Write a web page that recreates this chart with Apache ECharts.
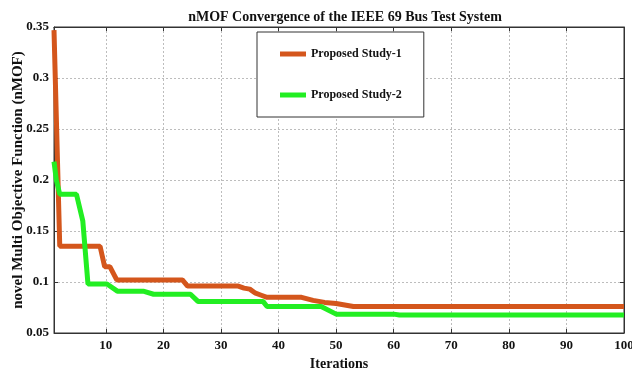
<!DOCTYPE html>
<html><head><meta charset="utf-8">
<script src="https://cdn.jsdelivr.net/npm/echarts@6/dist/echarts.min.js"></script>
<style>html,body{margin:0;padding:0;background:#fff}#c{width:632px;height:371px}</style>
</head><body><div id="c"></div>
<script>
const titleText = 'nMOF Convergence of the IEEE 69 Bus Test System';
const xName = 'Iterations';
const yName = 'novel Multi Objective Function (nMOF)';
const seriesNames = ['Proposed Study-1', 'Proposed Study-2'];
const xTicks = [10, 20, 30, 40, 50, 60, 70, 80, 90, 100];
const iter1 = [1, 2, 9, 9.8, 10.7, 11.9, 23.3, 24.2, 33, 34, 35, 36, 37, 38, 44, 46, 48, 50, 53, 100];
const val1 = [0.347, 0.135, 0.135, 0.115, 0.115, 0.102, 0.102, 0.096, 0.096, 0.094, 0.093, 0.089, 0.087, 0.085, 0.085, 0.082, 0.080, 0.079, 0.076, 0.076];
const iter2 = [1, 1.4, 2, 4.9, 6, 6.9, 10.2, 12, 16.5, 18.3, 24.7, 26, 37.3, 38, 47.4, 50, 60, 61, 100];
const val2 = [0.218, 0.2, 0.186, 0.186, 0.16, 0.098, 0.098, 0.091, 0.091, 0.088, 0.088, 0.081, 0.081, 0.076, 0.076, 0.0685, 0.0685, 0.0677, 0.0677];

const font = 'Liberation Serif';
const pairs = (xs, ys) => xs.map((x, i) => [x, ys[i]]);
const chart = echarts.init(document.getElementById('c'));
const gridLine = {show: true, lineStyle: {color: '#bdbdbd', type: [2, 2], width: 1}};
chart.setOption({
  animation: false,
  backgroundColor: '#fff',
  title: {text: titleText, left: 340, top: 5, textAlign: 'center',
    textStyle: {fontFamily: font, fontWeight: 'bold', fontSize: 14, color: '#111'}},
  grid: {left: 54, right: 8, top: 27, bottom: 38, show: true, borderColor: '#333', borderWidth: 1,
    containLabel: false, outerBoundsMode: 'none'},
  legend: {
    orient: 'vertical', left: 257, top: 32,
    backgroundColor: '#fff', borderColor: '#333', borderWidth: 1,
    padding: [16, 22, 16, 23], itemGap: 29, itemWidth: 26, itemHeight: 5, icon: 'rect',
    textStyle: {fontFamily: font, fontWeight: 'bold', fontSize: 12, color: '#111'},
    data: seriesNames
  },
  xAxis: [{
    type: 'value', min: 1, max: 100, position: 'bottom',
    name: xName, nameLocation: 'middle', nameGap: 22,
    nameTextStyle: {fontFamily: font, fontWeight: 'bold', fontSize: 14, color: '#111'},
    axisLine: {show: true, onZero: false, lineStyle: {color: '#333'}},
    axisTick: {show: true, inside: true, length: 4, customValues: xTicks, lineStyle: {color: '#333'}},
    axisLabel: {customValues: xTicks, fontFamily: font, fontWeight: 'bold', fontSize: 13, color: '#111', margin: 6},
    splitLine: gridLine
  }, {
    type: 'value', min: 1, max: 100, position: 'top',
    axisLine: {show: true, onZero: false, lineStyle: {color: '#333'}},
    axisTick: {show: true, inside: true, length: 4, customValues: xTicks, lineStyle: {color: '#333'}},
    axisLabel: {show: false}, splitLine: {show: false}
  }],
  yAxis: [{
    type: 'value', min: 0.05, max: 0.35, interval: 0.05,
    name: yName, nameLocation: 'middle', nameGap: 28, nameRotate: 90, nameMoveOverlap: false,
    nameTextStyle: {fontFamily: font, fontWeight: 'bold', fontSize: 15, color: '#111'},
    axisLine: {show: true, onZero: false, lineStyle: {color: '#333'}},
    axisTick: {show: true, inside: true, length: 4, lineStyle: {color: '#333'}},
    axisLabel: {fontFamily: font, fontWeight: 'bold', fontSize: 13, color: '#111', margin: 5},
    splitLine: gridLine
  }, {
    type: 'value', min: 0.05, max: 0.35, interval: 0.05, position: 'right',
    axisLine: {show: true, onZero: false, lineStyle: {color: '#333'}},
    axisTick: {show: true, inside: true, length: 4, lineStyle: {color: '#333'}},
    axisLabel: {show: false}, splitLine: {show: false}
  }],
  series: [{
    name: seriesNames[0], type: 'line', xAxisIndex: 0, yAxisIndex: 0,
    data: pairs(iter1, val1), showSymbol: false, symbol: 'none',
    lineStyle: {color: '#d4561c', width: 5}, itemStyle: {color: '#d4561c'}, z: 3
  }, {
    name: seriesNames[1], type: 'line', xAxisIndex: 0, yAxisIndex: 0,
    data: pairs(iter2, val2), showSymbol: false, symbol: 'none',
    lineStyle: {color: '#22ee22', width: 5}, itemStyle: {color: '#22ee22'}, z: 4
  }]
});
</script></body></html>
